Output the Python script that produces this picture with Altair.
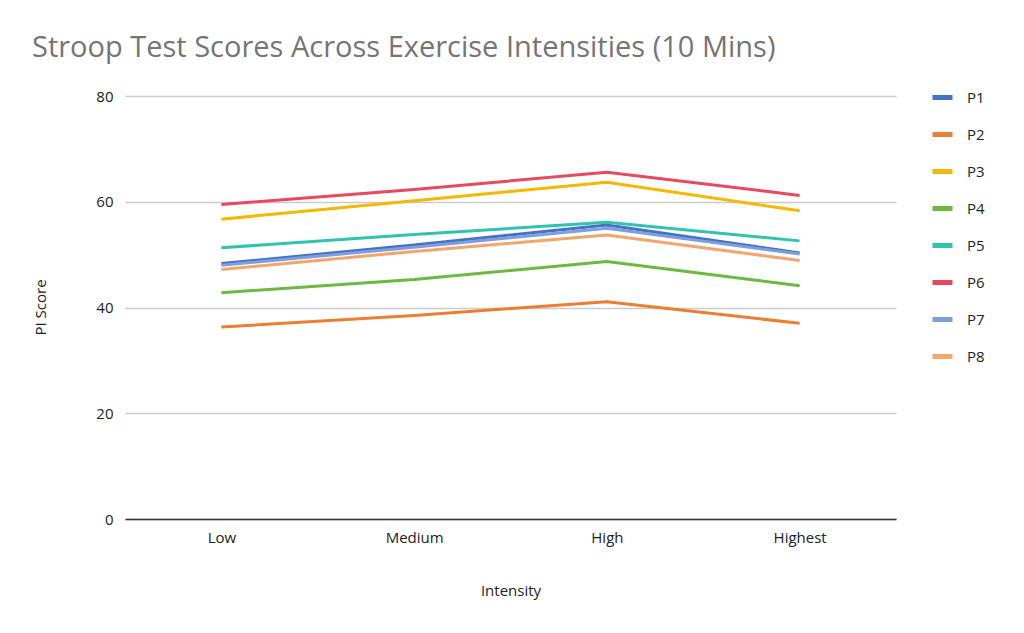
import altair as alt
import pandas as pd

intensities = ["Low", "Medium", "High", "Highest"]
participants = ["P1", "P2", "P3", "P4", "P5", "P6", "P7", "P8"]
scores = {
    "P1": [48.3, 51.8, 55.6, 50.3],
    "P2": [36.3, 38.5, 41.1, 37.0],
    "P3": [56.7, 60.2, 63.7, 58.3],
    "P4": [42.8, 45.3, 48.7, 44.1],
    "P5": [51.3, 53.8, 56.1, 52.6],
    "P6": [59.5, 62.3, 65.6, 61.2],
    "P7": [48.0, 51.4, 55.0, 50.1],
    "P8": [47.2, 50.6, 53.7, 48.9],
}
colors = ["#4472C4", "#ED7D31", "#F4B800", "#6DB840", "#2EC4B0", "#E8495F", "#7F9EDE", "#F4A56C"]

rows = []
for p in participants:
    for i, v in zip(intensities, scores[p]):
        rows.append({"Participant": p, "Intensity": i, "Score": v})
df = pd.DataFrame(rows)

FONT = "Open Sans"

chart = alt.Chart(df).mark_line(strokeWidth=3).encode(
    x=alt.X("Intensity:N", sort=intensities, scale=alt.Scale(type="point", padding=0.5),
            axis=alt.Axis(title="Intensity", labelAngle=0, ticks=False, domain=True,
                          domainColor="#333333", domainWidth=1.5, labelPadding=11,
                          labelFontSize=15, labelColor="#222222", labelFont=FONT,
                          titleFont=FONT, titleFontSize=15, titleFontWeight="normal",
                          titleColor="#222222", titleBaseline="middle", titleY=71, grid=False)),
    y=alt.Y("Score:Q", scale=alt.Scale(domain=[0, 80]),
            axis=alt.Axis(title="PI Score", values=[0, 20, 40, 60, 80], ticks=False, domain=False,
                          gridColor="#cccccc", gridWidth=1.5, labelPadding=12,
                          labelFontSize=15, labelColor="#222222", labelFont=FONT,
                          titleFont=FONT, titleFontSize=15, titleFontWeight="normal",
                          titleColor="#222222", titleBaseline="middle", titleX=-85, titleY=211)),
    color=alt.Color("Participant:N", sort=participants,
                    scale=alt.Scale(domain=participants, range=colors),
                    legend=alt.Legend(title=None, orient="none", legendX=805, legendY=-11,
                                      symbolType="stroke", symbolStrokeWidth=5, symbolSize=400,
                                      rowPadding=14, labelFontSize=15, labelFont=FONT,
                                      labelColor="#222222", labelOffset=12)),
).properties(
    width=771,
    height=423,
    title=alt.TitleParams("Stroop Test Scores Across Exercise Intensities (10 Mins)",
                          anchor="start", frame="group", dx=-93, offset=22,
                          font=FONT, fontSize=29, fontWeight="normal", color="#757575"),
    autosize=alt.AutoSizeParams(type="none"),
    padding={"left": 117, "top": 88, "right": 120, "bottom": 106},
).configure_view(stroke=None)

chart.save("out.html", embed_options={"renderer": "svg", "actions": False})
